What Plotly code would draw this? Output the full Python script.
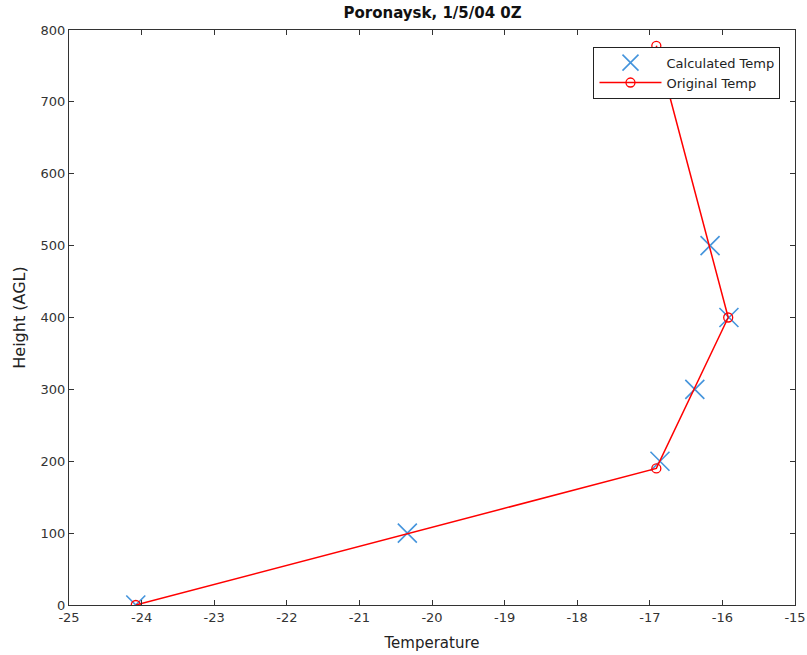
import plotly.graph_objects as go

# Calculated temperature profile (markers only)
calc_temp = [-24.08, -20.34, -16.86, -16.38, -15.91, -16.17]
calc_height = [0, 100, 200, 300, 400, 500]

# Original sounding temperature profile (line with circles)
orig_temp = [-24.08, -16.91, -15.92, -16.91]
orig_height = [0, 190, 400, 778]

x_ticks = list(range(-25, -14))
x_tick_text = [str(v) for v in x_ticks]  # plain hyphen minus signs
y_ticks = list(range(0, 801, 100))

font = "DejaVu Sans, Liberation Sans, Arial, sans-serif"

fig = go.Figure()
fig.add_trace(go.Scatter(
    x=calc_temp, y=calc_height, mode="markers", name="Calculated Temp",
    marker=dict(symbol="x-thin", size=19, color="rgba(0,0,0,0)",
                line=dict(color="#4494dc", width=1.6)),
))
fig.add_trace(go.Scatter(
    x=orig_temp, y=orig_height, mode="lines+markers", name="Original Temp",
    line=dict(color="#ff0000", width=1.5),
    marker=dict(symbol="circle-open", size=9, color="#ff0000",
                line=dict(color="#ff0000", width=1.3)),
))

axis_common = dict(
    showline=True, linecolor="#333333", linewidth=1.3, mirror="ticks",
    ticks="inside", ticklen=5, tickcolor="#333333", tickwidth=1,
    showgrid=False, zeroline=False, automargin=False,
    tickfont=dict(family=font, size=13, color="#333333"),
)

fig.update_layout(
    width=807, height=655,
    margin=dict(l=69, r=12, t=30, b=50),
    paper_bgcolor="white", plot_bgcolor="white",
    title=dict(text="<b>Poronaysk, 1/5/04 0Z</b>", x=0.536, xanchor="center",
               y=0.98, yanchor="middle",
               font=dict(family=font, size=15, color="#111111")),
    xaxis=dict(range=[-25, -15], tickvals=x_ticks, ticktext=x_tick_text,
               title=dict(text="Temperature", standoff=13,
                          font=dict(family=font, size=15, color="#222222")),
               **axis_common),
    yaxis=dict(range=[0, 800], tickvals=y_ticks,
               title=dict(text="Height (AGL)", standoff=10,
                          font=dict(family=font, size=16, color="#222222")),
               **axis_common),
    legend=dict(x=0.98, y=0.971, xanchor="right", yanchor="top",
                bgcolor="white", bordercolor="#222222", borderwidth=1,
                font=dict(family=font, size=13, color="#222222"),
                tracegroupgap=0, itemwidth=62),
    showlegend=True,
)

fig.write_html("out.html")
